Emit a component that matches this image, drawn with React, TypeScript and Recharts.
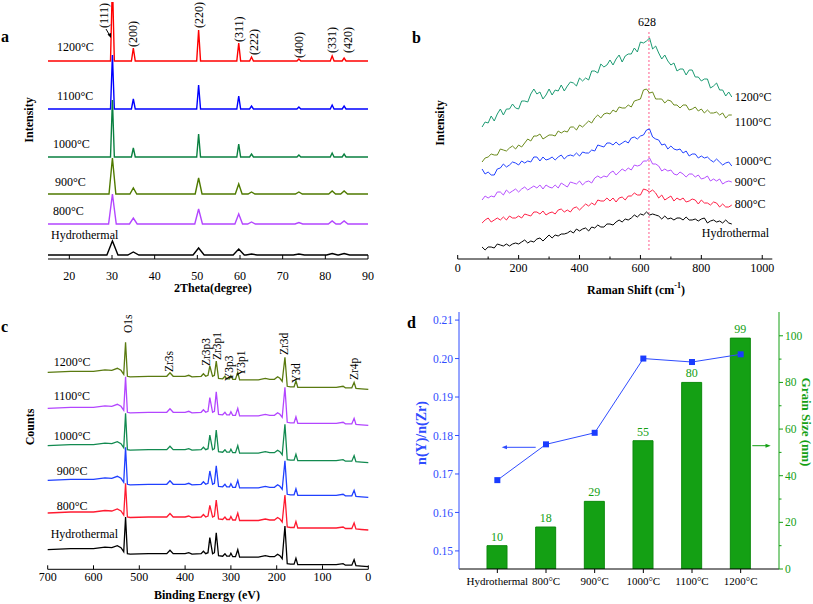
import React from 'react';
import {
  LineChart,
  Line,
  XAxis,
  YAxis,
  ComposedChart,
  Bar,
  LabelList,
  ReferenceDot,
  ReferenceLine
} from 'recharts';

const SERIF = '"Liberation Serif", "Times New Roman", serif';

// ---------- (a) XRD ----------
const xrdSamples = ['1200°C', '1100°C', '1000°C', '900°C', '800°C', 'Hydrothermal'];
const xrdPeakPos = [30.1, 35.0, 50.3, 59.7, 62.7, 73.8, 81.6, 84.4];
const xrdHkl = ['(111)', '(200)', '(220)', '(311)', '(222)', '(400)', '(331)', '(420)'];
const xrdOffsets = [198, 150, 102, 65, 35, 4];
const xrdHeights = [
  [80, 13, 31, 18, 4, 2, 5, 3],
  [54, 10, 24, 13, 3, 2, 4, 3],
  [57, 9, 23, 13, 3, 2, 4, 3],
  [36, 6, 16, 10, 2, 2, 3, 3],
  [30, 6, 15, 10, 2, 1.5, 3, 3],
  [14, 3, 7, 6, 1, 1, 1.5, 1.5]
];
const xrdHalfWidth = [0.45, 0.45, 0.45, 0.8, 0.9, 1.3];
const xrdTicks = [20, 30, 40, 50, 60, 70, 80, 90];
const xrdLabelX = [28.1, 35.0, 50.3, 59.8, 63.3, 73.8, 81.6, 85.2];
const xrdLabelY = [231, 212, 231, 217, 204, 201, 206, 206];

// ---------- (b) Raman ----------
const ramanSamples = ['1200°C', '1100°C', '1000°C', '900°C', '800°C', 'Hydrothermal'];
const ramanShift = [80, 90, 100, 110, 120, 130, 140, 150, 160, 170, 180, 190, 200, 210, 220, 230, 240, 250, 260, 270,
  280, 290, 300, 310, 320, 330, 340, 350, 360, 370, 380, 390, 400, 410, 420, 430, 440, 450, 460, 470,
  480, 490, 500, 510, 520, 530, 540, 550, 560, 570, 580, 590, 600, 610, 620, 630, 640, 650, 660, 670,
  680, 690, 700, 710, 720, 730, 740, 750, 760, 770, 780, 790, 800, 810, 820, 830, 840, 850, 860, 870,
  880, 890, 900];
const raman1200 = [132, 137, 136, 143, 138, 145, 150, 144, 150, 150, 155, 151, 150, 158, 158, 157, 165, 170, 165, 167,
  160, 164, 170, 164, 169, 168, 174, 168, 173, 177, 176, 173, 181, 178, 181, 179, 188, 188, 186, 195,
  192, 194, 199, 194, 200, 204, 197, 203, 205, 205, 211, 207, 217, 216, 218, 221, 210, 213, 206, 200,
  204, 198, 194, 196, 188, 190, 190, 184, 189, 189, 182, 182, 178, 180, 180, 171, 173, 176, 169, 169,
  163, 167, 162];
const raman1100 = [97, 101, 102, 105, 104, 104, 110, 109, 108, 111, 113, 110, 114, 112, 116, 120, 118, 123, 123, 125,
  120, 122, 124, 124, 123, 128, 126, 128, 127, 132, 132, 129, 134, 132, 135, 138, 136, 141, 144, 141,
  145, 146, 145, 149, 147, 152, 151, 151, 154, 152, 158, 159, 160, 169, 170, 166, 167, 160, 160, 160,
  156, 159, 158, 154, 154, 151, 154, 154, 149, 150, 152, 148, 150, 146, 149, 146, 146, 147, 144, 146,
  141, 144, 144];
const raman1000 = [90, 85, 87, 84, 84, 90, 91, 95, 92, 94, 97, 96, 94, 98, 96, 98, 97, 102, 102, 98,
  102, 99, 100, 102, 99, 102, 104, 100, 103, 104, 103, 106, 103, 107, 106, 106, 109, 108, 114, 113,
  112, 116, 116, 114, 117, 114, 116, 118, 116, 121, 122, 120, 123, 124, 129, 130, 122, 120, 119, 114,
  115, 110, 113, 110, 109, 110, 106, 108, 103, 105, 105, 101, 103, 101, 102, 99, 97, 100, 97, 94,
  96, 97, 93];
const raman900 = [59, 63, 61, 63, 62, 67, 67, 64, 69, 66, 68, 70, 67, 70, 72, 69, 71, 73, 71, 74,
  70, 74, 72, 71, 74, 71, 76, 74, 72, 77, 76, 75, 78, 74, 77, 78, 76, 81, 83, 81,
  83, 82, 86, 88, 84, 87, 90, 88, 91, 89, 94, 93, 94, 98, 98, 101, 95, 95, 93, 88,
  90, 88, 89, 85, 84, 87, 85, 82, 85, 85, 82, 84, 80, 81, 83, 78, 80, 78, 80, 75,
  77, 78, 77];
const raman800 = [36, 39, 41, 37, 39, 41, 39, 42, 39, 43, 41, 41, 43, 41, 45, 44, 43, 47, 47, 45,
  48, 44, 46, 47, 45, 49, 50, 47, 49, 47, 51, 52, 49, 52, 55, 53, 56, 54, 59, 58,
  58, 61, 58, 61, 57, 61, 62, 59, 63, 63, 66, 64, 64, 70, 69, 67, 69, 66, 61, 64,
  59, 61, 63, 58, 61, 59, 61, 57, 58, 60, 59, 55, 59, 56, 56, 54, 57, 56, 52, 55,
  52, 52, 54];
const ramanHydro = [12, 9, 12, 12, 11, 15, 14, 13, 15, 13, 15, 16, 15, 17, 19, 16, 18, 17, 20, 21,
  18, 21, 24, 21, 24, 23, 25, 25, 26, 28, 26, 30, 28, 30, 31, 28, 32, 31, 34, 32,
  32, 35, 35, 34, 37, 39, 37, 40, 39, 41, 44, 42, 45, 44, 47, 44, 45, 44, 43, 40,
  43, 40, 41, 39, 41, 41, 39, 42, 39, 39, 40, 38, 40, 41, 36, 38, 39, 37, 38, 36,
  39, 36, 35];
const ramanValues = [raman1200, raman1100, raman1000, raman900, raman800, ramanHydro];
const ramanTicks = [0, 100, 200, 300, 400, 500, 600, 700, 800, 900, 1000];

// ---------- (c) XPS ----------
const xpsSamples = ['1200°C', '1100°C', '1000°C', '900°C', '800°C', 'Hydrothermal'];
const xpsEnergy = [700, 650, 600, 575, 560, 548, 540, 534, 530, 526, 520, 480, 440, 433, 426, 400, 392, 385, 365, 360,
  355, 350, 346, 340, 336, 332, 327, 318, 313, 309, 303, 300, 296, 290, 285, 281, 260, 240, 225, 215,
  205, 198, 193, 188, 182, 177, 170, 162, 158, 154, 130, 100, 70, 55, 50, 36, 31, 27, 15, 0];
const xpsBackground = [17, 18, 18, 19.5, 19, 21, 19, 15, null, 13, 12.5, 13, 13, 16.5, 13, 13, 14, 12.5, 13, 15.5,
  13, 14, null, 13, 14, null, 11, 10.5, 13, 10.5, 10.5, 13.5, 10, 10, 17, 9.5, 9.5, 9.5, 11, 10,
  10, 12.5, 11, 8, null, 3, 2.5, 2.5, 8.5, 2, 2, 2, 2, 3, 1.5, 1.5, 7, 1, 0.5, 0];
const xpsMajor = [530, 346, 332, 182];
const xpsMajorHeights = [
  [47, 23.3, 28.3, 32],
  [48.6, 27.6, 33.6, 38],
  [49.4, 27.7, 32.7, 38.4],
  [50, 26.3, 31.6, 36.6],
  [46.7, 24.7, 30, 35],
  [49.7, 29, 34, 40.7]
];
const xpsOffsets = [180, 144, 106.6, 72, 39.3, 2.6];
const xpsTicks = [0, 50, 100, 150, 200, 250, 300, 350, 400, 450, 500, 550, 600, 650, 700];
const xpsPeakNames = ['O1s', 'Zr3s', 'Zr3p3', 'Zr3p1', 'Y3p3', 'Y3p1', 'Zr3d', 'Y3d', 'Zr4p'];
const xpsLabelX = [525, 434.5, 355, 331, 303.5, 278.6, 183.4, 158.5, 30.6];
const xpsLabelY = [236.3, 197.3, 203.3, 209.3, 188.3, 193.3, 214.3, 186.3, 189.3];

// ---------- (d) ratio + grain size ----------
const dCategories = ['Hydrothermal', '800°C', '900°C', '1000°C', '1100°C', '1200°C'];
const grainSize = [10, 18, 29, 55, 80, 99];
const yZrRatio = [0.1684, 0.1777, 0.1807, 0.2, 0.1991, 0.2011];
const ratioTicks = [0.15, 0.16, 0.17, 0.18, 0.19, 0.2, 0.21];
const sizeTicks = [0, 10, 20, 30, 40, 50, 60, 70, 80, 90, 100];

// styles
const xrdColors = ['#ff0000', '#0000ff', '#0a8040', '#4f7a00', '#b346ff', '#000000'];
const xrdLabelDx = [9, 9, 5, 7, 5, 3];
const xrdLabelDy = [-14, -13, -13, -12, -13, -20];
const ramanColors = ['#1c9a72', '#6b8a1c', '#2040ff', '#b54fff', '#ff1f45', '#000000'];
const ramanLabelDx = [3, 3, 3, 3, 3, -30];
const ramanLabelDy = [0, 7, -5, 0, -1, 9];
const xpsColors = ['#5a7a10', '#b346ff', '#128a50', '#2040ff', '#ff1a30', '#000000'];
const xpsLabelDx = [6, 6, 6, 9, 9, 3];
const xpsLabelDy = [-10, -12, -10, -9, -7, -16];
const BLUE = '#2f4cff';
const GREEN = '#14a014';

const buildXrd = (i: number) => {
  const pts = [{ t: 15, v: xrdOffsets[i] }];
  xrdPeakPos.forEach((p, k) => {
    pts.push({ t: p - xrdHalfWidth[i], v: xrdOffsets[i] });
    pts.push({ t: p, v: xrdOffsets[i] + xrdHeights[i][k] });
    pts.push({ t: p + xrdHalfWidth[i], v: xrdOffsets[i] });
  });
  pts.push({ t: 90, v: xrdOffsets[i] });
  return pts;
};

const buildRaman = (i: number) => ramanShift.map((s, k) => ({ s, v: ramanValues[i][k] }));

const buildXps = (i: number) =>
  xpsEnergy.map((e, k) => {
    const m = xpsMajor.indexOf(e);
    const rel = m >= 0 ? xpsMajorHeights[i][m] : (xpsBackground[k] as number);
    return { e, v: xpsOffsets[i] + rel };
  });

const dData = dCategories.map((cat, i) => ({ cat, size: grainSize[i], ratio: yZrRatio[i] }));

// inward bottom ticks, label only on majors
const InTick = (props: any) => {
  const { x, y, payload, every, gap, fontSize } = props;
  const isMajor = payload.value % every === 0;
  return (
    <g>
      <line x1={x} y1={y} x2={x} y2={y - (isMajor ? 4 : 2.5)} stroke="#000" strokeWidth={1} />
      {isMajor && (
        <text x={x} y={y + gap} dy="0.71em" textAnchor="middle" fontSize={fontSize || 12} fontFamily={SERIF} fill="#000">
          {payload.value}
        </text>
      )}
    </g>
  );
};

const textAt = (text: string, dx: number, dy: number, anchor: string = 'start') => (p: any) => {
  const vb = p.viewBox || {};
  return (
    <text x={(vb.x || 0) + dx} y={(vb.y || 0) + dy} textAnchor={anchor} dominantBaseline="central"
      fontSize={12} fontFamily={SERIF} fill="#000">
      {text}
    </text>
  );
};

const rotAt = (text: string, size: number) => (p: any) => {
  const vb = p.viewBox || {};
  const x = vb.x || 0;
  const y = vb.y || 0;
  return (
    <text x={x} y={y} transform={`rotate(-90 ${x} ${y})`} textAnchor="start" dominantBaseline="central"
      fontSize={size} fontFamily={SERIF} fill="#000">
      {text}
    </text>
  );
};

const XrdPanel = () => (
  <LineChart width={400} height={300} margin={{ top: 2, right: 32, bottom: 0, left: 48 }}>
    <XAxis dataKey="t" type="number" domain={[15, 90]} ticks={xrdTicks} allowDataOverflow height={41} stroke="#000"
      tickSize={0} tickMargin={0} tickLine={false} tick={(p: any) => <InTick {...p} every={10} gap={12} />} />
    <XAxis xAxisId="top" orientation="top" dataKey="t" type="number" domain={[15, 90]} height={0} tick={false}
      tickLine={false} stroke="#000" />
    <YAxis type="number" domain={[0, 257]} allowDataOverflow width={0} tick={false} tickLine={false} stroke="#000" />
    <YAxis yAxisId="r" orientation="right" width={0} tick={false} tickLine={false} stroke="#000" />
    {xrdSamples.map((s, i) => (
      <Line key={s} data={buildXrd(i)} dataKey="v" stroke={xrdColors[i]} strokeWidth={1.4} dot={false}
        activeDot={false} isAnimationActive={false} />
    ))}
    {xrdSamples.map((s, i) => (
      <ReferenceDot key={'l' + s} x={15} y={xrdOffsets[i]} r={0} label={textAt(s, xrdLabelDx[i], xrdLabelDy[i])} />
    ))}
    {xrdHkl.map((h, k) => (
      <ReferenceDot key={h} x={xrdLabelX[k]} y={xrdLabelY[k]} r={0} label={rotAt(h, 12)} />
    ))}
  </LineChart>
);

const RamanPanel = () => (
  <LineChart width={413} height={300} margin={{ top: 2, right: 40.7, bottom: 0, left: 57.7 }}>
    <XAxis dataKey="s" type="number" domain={[0, 1033]} ticks={ramanTicks} height={41} stroke="#000"
      tickSize={0} tickMargin={0} tickLine={false} tick={(p: any) => <InTick {...p} every={200} gap={4} />} />
    <XAxis xAxisId="top" orientation="top" dataKey="s" type="number" domain={[0, 1033]} height={0} tick={false}
      tickLine={false} stroke="#000" />
    <YAxis type="number" domain={[0, 257]} allowDataOverflow width={0} tick={false} tickLine={false} stroke="#000" />
    <YAxis yAxisId="r" orientation="right" width={0} tick={false} tickLine={false} stroke="#000" />
    <ReferenceLine segment={[{ x: 628, y: 9 }, { x: 628, y: 227 }]} stroke="#ff5a8c" strokeDasharray="2 2" />
    {ramanSamples.map((s, i) => (
      <Line key={s} data={buildRaman(i)} dataKey="v" stroke={ramanColors[i]} strokeWidth={1} dot={false}
        activeDot={false} isAnimationActive={false} />
    ))}
    {ramanSamples.map((s, i) => (
      <ReferenceDot key={'l' + s} x={900} y={ramanValues[i][ramanValues[i].length - 1]} r={0}
        label={textAt(s, ramanLabelDx[i], ramanLabelDy[i])} />
    ))}
    <ReferenceDot x={628} y={237.3} r={0} label={textAt('628', -2, 0, 'middle')} />
  </LineChart>
);

const XpsPanel = () => (
  <LineChart width={400} height={304} margin={{ top: 1.7, right: 31.7, bottom: 0, left: 47.7 }}>
    <XAxis dataKey="e" type="number" domain={[0, 700]} reversed ticks={xpsTicks} height={34.7} stroke="#000"
      tickSize={0} tickMargin={0} tickLine={false} tick={(p: any) => <InTick {...p} every={100} gap={3.5} />} />
    <XAxis xAxisId="top" orientation="top" dataKey="e" type="number" domain={[0, 700]} reversed height={0}
      tick={false} tickLine={false} stroke="#000" />
    <YAxis type="number" domain={[0, 267.6]} allowDataOverflow width={0} tick={false} tickLine={false} stroke="#000" />
    <YAxis yAxisId="r" orientation="right" width={0} tick={false} tickLine={false} stroke="#000" />
    {xpsSamples.map((s, i) => (
      <Line key={s} data={buildXps(i)} dataKey="v" stroke={xpsColors[i]} strokeWidth={1.3} dot={false}
        activeDot={false} isAnimationActive={false} />
    ))}
    {xpsSamples.map((s, i) => (
      <ReferenceDot key={'l' + s} x={700} y={xpsOffsets[i] + (xpsBackground[0] as number)} r={0}
        label={textAt(s, xpsLabelDx[i], xpsLabelDy[i])} />
    ))}
    {xpsPeakNames.map((n, k) => (
      <ReferenceDot key={n} x={xpsLabelX[k]} y={xpsLabelY[k]} r={0} label={rotAt(n, 11.5)} />
    ))}
  </LineChart>
);

const SquareDot = (p: any) => (
  <rect key={'sq' + p.index} x={p.cx - 3} y={p.cy - 3} width={6} height={6} fill="#1a3cff" />
);

const RightTick = (p: any) => {
  const isMajor = p.payload.value % 20 === 0;
  return (
    <g>
      <line x1={p.x} y1={p.y} x2={p.x + (isMajor ? 4 : 2.5)} y2={p.y} stroke={GREEN} />
      {isMajor && (
        <text x={p.x + 6} y={p.y} dominantBaseline="central" textAnchor="start" fontSize={11.5} fontFamily={SERIF}
          fill={GREEN}>
          {p.payload.value}
        </text>
      )}
    </g>
  );
};

const RatioPanel = () => (
  <ComposedChart width={413} height={304} data={dData} margin={{ top: 12, right: 0, bottom: 0, left: 0 }}>
    <XAxis dataKey="cat" padding={{ left: 14, right: 14 }} height={35} stroke="#000" tickSize={4} tickMargin={4}
      tick={{ fontSize: 11, fontFamily: SERIF, fill: '#000' }} interval={0} />
    <XAxis xAxisId="top" orientation="top" dataKey="cat" height={0} tick={false} tickLine={false} stroke="#000" />
    <YAxis yAxisId="ratio" domain={[0.1453, 0.2121]} ticks={ratioTicks} allowDataOverflow width={59} stroke={BLUE}
      tickSize={4} tickMargin={2} tickFormatter={(v: number) => v.toFixed(2)}
      tick={{ fontSize: 11.5, fontFamily: SERIF, fill: BLUE }} />
    <YAxis yAxisId="size" orientation="right" domain={[0, 110.2]} ticks={sizeTicks} allowDataOverflow width={34}
      stroke={GREEN} tickSize={0} tickMargin={0} tickLine={false} tick={(p: any) => <RightTick {...p} />} />
    <Bar yAxisId="size" dataKey="size" barSize={20} fill={GREEN} stroke="#0d8a0d" isAnimationActive={false}>
      <LabelList dataKey="size" position="top" fill={GREEN} stroke="none" fontSize={12} fontFamily={SERIF} />
    </Bar>
    <Line yAxisId="ratio" dataKey="ratio" stroke={BLUE} strokeWidth={1} dot={SquareDot} activeDot={false}
      isAnimationActive={false} />
  </ComposedChart>
);

const Overlay = () => (
  <svg width={813} height={604} style={{ position: 'absolute', left: 0, top: 0, pointerEvents: 'none' }}
    fontFamily={SERIF}>
    <g fontWeight="bold" fontSize={16} fill="#000">
      <text x={1} y={42}>a</text>
      <text x={412} y={43}>b</text>
      <text x={1} y={332}>c</text>
      <text x={407} y={328}>d</text>
    </g>
    <g fontWeight="bold" fontSize={12} fill="#000" textAnchor="middle" dominantBaseline="central">
      <text x={213} y={288}>2Theta(degree)</text>
      <text x={29} y={120} transform="rotate(-90 29 120)">Intensity</text>
      <text x={636} y={290}>
        Raman Shift (cm<tspan dy={-5} fontSize={8}>-1</tspan><tspan dy={5}>)</tspan>
      </text>
      <text x={440} y={123} transform="rotate(-90 440 123)">Intensity</text>
      <text x={207} y={595}>Binding Energy (eV)</text>
      <text x={30} y={427} transform="rotate(-90 30 427)">Counts</text>
      <text x={421.7} y={433} transform="rotate(-90 421.7 433)" fill={BLUE} fontSize={14}>n(Y)/n(Zr)</text>
      <text x={806.7} y={422} transform="rotate(90 806.7 422)" fill={GREEN} fontSize={13}>Grain Size (nm)</text>
    </g>
    <line x1={106} y1={29} x2={109.5} y2={35} stroke="#000" strokeWidth={1} />
    <polygon points="111,38 107.5,34.5 111,33" fill="#000" />
    <line x1={535.7} y1={447.3} x2={506} y2={447.3} stroke={BLUE} strokeWidth={1} />
    <polygon points="501.7,447.3 507,445.3 507,449.3" fill={BLUE} />
    <line x1={752.3} y1={445.7} x2={766} y2={445.7} stroke={GREEN} strokeWidth={1} />
    <polygon points="770.7,445.7 765.5,443.7 765.5,447.7" fill={GREEN} />
  </svg>
);

const App = () => (
  <div style={{ position: 'absolute', left: 0, top: 0, width: 813, height: 604, background: '#fff', fontFamily: SERIF }}>
    <div style={{ position: 'absolute', left: 0, top: 0 }}><XrdPanel /></div>
    <div style={{ position: 'absolute', left: 400, top: 0 }}><RamanPanel /></div>
    <div style={{ position: 'absolute', left: 0, top: 300 }}><XpsPanel /></div>
    <div style={{ position: 'absolute', left: 400, top: 300 }}><RatioPanel /></div>
    <Overlay />
  </div>
);

export default App;
